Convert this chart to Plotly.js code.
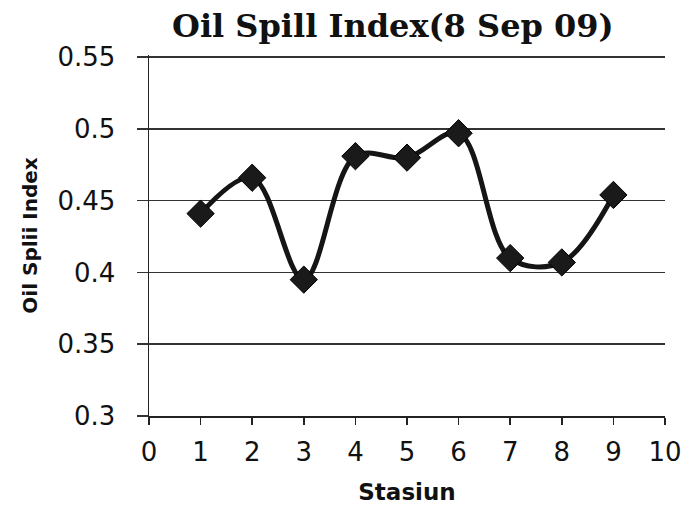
<!DOCTYPE html>
<html>
<head>
<meta charset="utf-8">
<script src="https://cdn.plot.ly/plotly-3.0.1.min.js"></script>
<style>html,body{margin:0;padding:0;background:#fff;}#chart{width:688px;height:510px;}</style>
</head>
<body>
<div id="chart"></div>
<script>
const stasiun = [1, 2, 3, 4, 5, 6, 7, 8, 9];
const oilSpillIndex = [0.441, 0.466, 0.395, 0.481, 0.480, 0.497, 0.410, 0.407, 0.454];
const xTicks = [0, 1, 2, 3, 4, 5, 6, 7, 8, 9, 10];
const yTicks = [0.3, 0.35, 0.4, 0.45, 0.5, 0.55];
const yTickText = ['0.3', '0.35', '0.4', '0.45', '0.5', '0.55'];

const trace = {
  x: stasiun,
  y: oilSpillIndex,
  type: 'scatter',
  mode: 'lines+markers',
  line: {shape: 'spline', smoothing: 1, color: '#151515', width: 5},
  marker: {symbol: 'diamond', size: 21, color: '#1a1a1a', line: {color: '#000', width: 1}},
  cliponaxis: false,
  showlegend: false
};

const tickFont = {family: 'DejaVu Sans, sans-serif', size: 26, color: '#111'};

const layout = {
  width: 688, height: 510,
  margin: {l: 149, r: 23, t: 55, b: 94},
  paper_bgcolor: '#ffffff', plot_bgcolor: '#ffffff',
  title: {
    text: '<b>Oil Spill Index(8 Sep 09)</b>',
    font: {family: 'DejaVu Serif, serif', size: 32, color: '#111'},
    x: 0.571, xanchor: 'center', y: 0.95, yanchor: 'middle', xref: 'container', yref: 'container'
  },
  xaxis: {
    range: [0, 10], tickvals: xTicks, ticktext: xTicks.map(String),
    showgrid: false, zeroline: false, showline: true, linecolor: '#222', linewidth: 1.5,
    ticks: 'outside', ticklen: 7, tickwidth: 1.5, tickcolor: '#222',
    tickfont: tickFont, ticklabelstandoff: 5,
    title: {text: '<b>Stasiun</b>', font: {family: 'DejaVu Sans, sans-serif', size: 23, color: '#111'}, standoff: 18},
    fixedrange: true
  },
  yaxis: {
    range: [0.3, 0.5515], tickvals: yTicks, ticktext: yTickText,
    showgrid: true, gridcolor: '#333', gridwidth: 1.5, zeroline: false,
    showline: true, linecolor: '#222', linewidth: 1.5,
    ticks: 'outside', ticklen: 11, tickwidth: 1.5, tickcolor: '#333',
    tickfont: tickFont, ticklabelstandoff: 16,
    title: {text: '<b>Oil Splii Index</b>', font: {family: 'DejaVu Sans, sans-serif', size: 20, color: '#111'}, standoff: 14},
    fixedrange: true
  }
};

Plotly.newPlot('chart', [trace], layout, {displayModeBar: false, staticPlot: true});
</script>
</body>
</html>
